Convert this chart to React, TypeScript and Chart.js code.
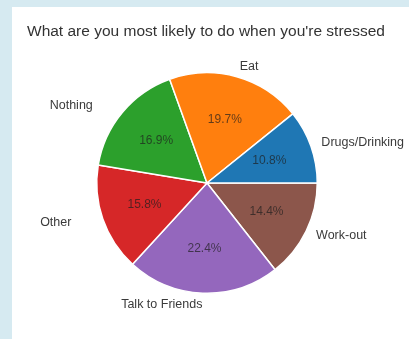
import React, { useEffect, useRef } from "react";
import { Chart, registerables } from "chart.js";

Chart.register(...registerables);

const TITLE = "What are you most likely to do when you're stressed";
// counter-clockwise from 3 o'clock, as in the reference
const categories = ["Drugs/Drinking", "Eat", "Nothing", "Other", "Talk to Friends", "Work-out"];
const shares = [10.8, 19.7, 16.9, 15.8, 22.4, 14.4];
const sliceColors = ["#1f77b4", "#ff7f0e", "#2ca02c", "#d62728", "#9467bd", "#8c564b"];

const FONT = "'Liberation Sans', Arial, sans-serif";

const decorPlugin = {
  id: "decor",
  beforeDraw(chart: any) {
    const ctx = chart.ctx;
    ctx.save();
    ctx.fillStyle = "#d6eaf1";
    ctx.fillRect(0, 0, chart.width, chart.height);
    ctx.fillStyle = "#ffffff";
    ctx.fillRect(12, 7, chart.width - 12, chart.height - 7);
    ctx.fillStyle = "#333333";
    ctx.font = `15.5px ${FONT}`;
    ctx.textAlign = "left";
    ctx.textBaseline = "middle";
    ctx.fillText(TITLE, 27, 32);
    ctx.restore();
  },
  afterDraw(chart: any) {
    const ctx = chart.ctx;
    const meta = chart.getDatasetMeta(0);
    const labels = chart.data.labels;
    const values = chart.data.datasets[0].data;
    const total = values.reduce((a: number, b: number) => a + b, 0);
    ctx.save();
    meta.data.forEach((arc: any, i: number) => {
      const mid = (arc.startAngle + arc.endAngle) / 2;
      const r = arc.outerRadius;
      const c = Math.cos(mid);
      const s = Math.sin(mid);
      // outer label
      let lx = arc.x + c * r * 1.1;
      const ly = arc.y + s * r * 1.1;
      ctx.fillStyle = "#3a3a3a";
      ctx.font = `12.5px ${FONT}`;
      ctx.textBaseline = "middle";
      if (c >= 0) {
        ctx.textAlign = "left";
      } else {
        ctx.textAlign = "right";
        if (c < -0.5) lx -= 21;
      }
      ctx.fillText(labels[i], lx, ly);
      // percentage
      const px = arc.x + c * r * 0.6;
      const py = arc.y + s * r * 0.6;
      ctx.fillStyle = "rgba(30,30,30,0.7)";
      ctx.font = `12px ${FONT}`;
      ctx.textAlign = "center";
      ctx.fillText(((values[i] / total) * 100).toFixed(1) + "%", px, py);
    });
    ctx.restore();
  },
};

export default function App() {
  const ref = useRef<HTMLCanvasElement>(null);
  useEffect(() => {
    document.body.style.margin = "0";
    const order = categories.map((_, i) => i).reverse();
    const chart = new Chart(ref.current!, {
      type: "pie",
      data: {
        labels: order.map((i) => categories[i]),
        datasets: [
          {
            data: order.map((i) => shares[i]),
            backgroundColor: order.map((i) => sliceColors[i]),
            borderColor: "#ffffff",
            borderWidth: 1.5,
          },
        ],
      },
      options: {
        responsive: false,
        animation: false,
        devicePixelRatio: 1,
        rotation: 90,
        layout: { padding: { left: 96, right: 91, top: 72, bottom: 45 } },
        plugins: {
          legend: { display: false },
          tooltip: { enabled: false },
          title: { display: false },
        },
      },
      plugins: [decorPlugin],
    });
    return () => chart.destroy();
  }, []);
  return (
    <div style={{ position: "absolute", left: 0, top: 0, width: 409, height: 339 }}>
      <canvas ref={ref} width={409} height={339} />
    </div>
  );
}
